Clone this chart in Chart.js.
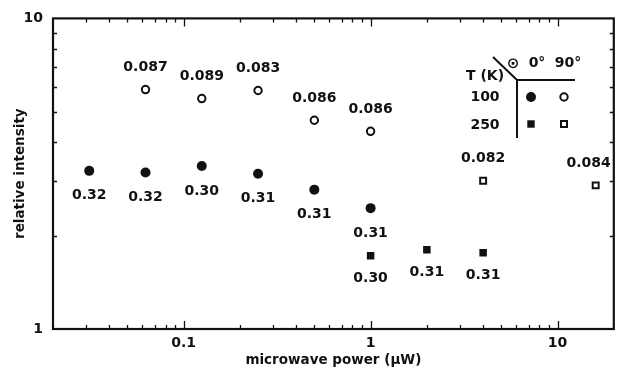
<!DOCTYPE html>
<html><head><meta charset="utf-8">
<script src="https://cdn.jsdelivr.net/npm/chart.js@4/dist/chart.umd.min.js"></script>
<style>html,body{margin:0;padding:0;background:#fff}#wrap{width:620px;height:369px}</style>
</head><body><div id="wrap"><canvas id="c" width="620" height="369"></canvas></div>
<script>
// ---- data ----
const power100_0 = [0.03125, 0.0625, 0.125, 0.25, 0.5, 1];
const intensity100_0 = [3.23, 3.19, 3.35, 3.16, 2.81, 2.45];
const ratio100_0 = ['0.32', '0.32', '0.30', '0.31', '0.31', '0.31'];

const power100_90 = [0.0625, 0.125, 0.25, 0.5, 1];
const intensity100_90 = [5.90, 5.52, 5.86, 4.70, 4.33];
const ratio100_90 = ['0.087', '0.089', '0.083', '0.086', '0.086'];

const power250_0 = [1, 2, 4];
const intensity250_0 = [1.72, 1.80, 1.76];
const ratio250_0 = ['0.30', '0.31', '0.31'];

const power250_90 = [4, 16];
const intensity250_90 = [3.00, 2.90];
const ratio250_90 = ['0.082', '0.084'];

const xMajorTicks = [0.1, 1, 10];
const xTickLabels = ['0.1', '1', '10'];
const yMajorTicks = [1, 10];
const yTickLabels = ['1', '10'];
const xRange = [0.02, 20];
const yRange = [1, 10];

// ---- helpers ----
const FONT = '"DejaVu Sans", sans-serif';
function toPts(xs, ys) { return xs.map((v, i) => ({x: v, y: ys[i]})); }
function isMajor(v, list) { return list.some(m => Math.abs(v - m) / m < 1e-6); }
function logTicks(min, max) {
  const out = [];
  for (let e = Math.floor(Math.log10(min)); e <= Math.ceil(Math.log10(max)); e++) {
    for (let m = 1; m <= 9; m++) {
      const v = +(m * Math.pow(10, e)).toPrecision(6);
      if (v >= min * 0.9999 && v <= max * 1.0001) out.push({value: v});
    }
  }
  return out;
}

const frameTicks = {
  id: 'frameTicks',
  afterDraw(chart) {
    const {ctx, chartArea: a, scales: {x, y}} = chart;
    ctx.save();
    ctx.strokeStyle = '#111';
    ctx.lineWidth = 1.3;
    ctx.beginPath();
    x.ticks.forEach(t => {
      const px = Math.round(x.getPixelForValue(t.value)) + 0.5;
      if (px < a.left + 2 || px > a.right - 2) return;
      const len = isMajor(t.value, xMajorTicks) ? 8 : 4;
      ctx.moveTo(px, a.bottom); ctx.lineTo(px, a.bottom - len);
      ctx.moveTo(px, a.top); ctx.lineTo(px, a.top + len);
    });
    y.ticks.forEach(t => {
      const py = Math.round(y.getPixelForValue(t.value)) + 0.5;
      if (py < a.top + 2 || py > a.bottom - 2) return;
      const len = isMajor(t.value, yMajorTicks) ? 8 : 4;
      ctx.moveTo(a.left, py); ctx.lineTo(a.left + len, py);
      ctx.moveTo(a.right, py); ctx.lineTo(a.right - len, py);
    });
    ctx.stroke();
    ctx.lineWidth = 2.2;
    ctx.strokeRect(a.left, a.top, a.right - a.left, a.bottom - a.top);
    ctx.restore();
  }
};

const pointLabels = {
  id: 'pointLabels',
  afterDatasetsDraw(chart) {
    const {ctx, chartArea: a} = chart;
    ctx.save();
    ctx.font = 'bold 14px ' + FONT;
    ctx.fillStyle = '#111';
    ctx.textAlign = 'center';
    ctx.textBaseline = 'middle';
    chart.data.datasets.forEach((ds, di) => {
      const meta = chart.getDatasetMeta(di);
      meta.data.forEach((el, i) => {
        const txt = ds.valueLabels[i];
        const w = ctx.measureText(txt).width;
        let cx = el.x;
        if (cx + w / 2 > a.right - 3) cx = a.right - 3 - w / 2;
        ctx.fillText(txt, cx, el.y + ds.labelOffset);
      });
    });
    ctx.restore();
  }
};

const cornerKey = {
  id: 'cornerKey',
  afterDraw(chart) {
    const {ctx} = chart;
    ctx.save();
    ctx.fillStyle = '#111';
    ctx.strokeStyle = '#111';
    ctx.font = 'bold 14px ' + FONT;
    ctx.textAlign = 'center';
    ctx.textBaseline = 'middle';
    ctx.fillText('T (K)', 485, 76);
    ctx.fillText('100', 485, 97);
    ctx.fillText('250', 485, 125);
    ctx.fillText('0°', 537, 63);
    ctx.fillText('90°', 568, 63);
    ctx.font = 'bold 15px ' + FONT;
    ctx.fillText('⊙', 513, 64);
    ctx.lineWidth = 2;
    ctx.beginPath();
    ctx.moveTo(493, 57); ctx.lineTo(517, 80); ctx.lineTo(575, 80);
    ctx.moveTo(517, 80); ctx.lineTo(517, 138);
    ctx.stroke();
    // markers
    ctx.beginPath(); ctx.arc(531, 97, 5, 0, Math.PI * 2); ctx.fill();
    ctx.beginPath(); ctx.arc(564, 97, 3.7, 0, Math.PI * 2);
    ctx.fillStyle = '#fff'; ctx.fill(); ctx.lineWidth = 2; ctx.stroke();
    ctx.fillStyle = '#111';
    ctx.fillRect(531 - 3.7, 124 - 3.7, 7.4, 7.4);
    ctx.strokeRect(564 - 3, 124 - 3, 6, 6);
    ctx.restore();
  }
};

new Chart(document.getElementById('c'), {
  type: 'scatter',
  data: {
    datasets: [
      {label: '100 K, 0°', data: toPts(power100_0, intensity100_0), valueLabels: ratio100_0, labelOffset: 25,
       pointStyle: 'circle', pointRadius: 5, backgroundColor: '#111', borderColor: '#111', borderWidth: 0},
      {label: '100 K, 90°', data: toPts(power100_90, intensity100_90), valueLabels: ratio100_90, labelOffset: -22,
       pointStyle: 'circle', pointRadius: 3.7, backgroundColor: '#fff', borderColor: '#111', borderWidth: 2},
      {label: '250 K, 0°', data: toPts(power250_0, intensity250_0), valueLabels: ratio250_0, labelOffset: 23,
       pointStyle: 'rect', pointRadius: 5.3, backgroundColor: '#111', borderColor: '#111', borderWidth: 0},
      {label: '250 K, 90°', data: toPts(power250_90, intensity250_90), valueLabels: ratio250_90, labelOffset: -22,
       pointStyle: 'rect', pointRadius: 4.2, backgroundColor: '#fff', borderColor: '#111', borderWidth: 2}
    ]
  },
  options: {
    responsive: false,
    animation: false,
    devicePixelRatio: 1,
    events: [],
    layout: {padding: {top: 15, right: 3, left: 0, bottom: 0}},
    plugins: {legend: {display: false}, tooltip: {enabled: false}},
    scales: {
      x: {
        type: 'logarithmic', min: xRange[0], max: xRange[1],
        grid: {display: false, drawTicks: false}, border: {display: false},
        afterBuildTicks: s => { s.ticks = logTicks(xRange[0], xRange[1]); },
        afterFit: s => { s.height = 40; },
        ticks: {
          autoSkip: false, maxRotation: 0, padding: 6, color: '#111',
          font: {family: FONT, weight: 'bold', size: 14},
          callback: v => { const i = xMajorTicks.findIndex(m => Math.abs(v - m) / m < 1e-6); return i >= 0 ? xTickLabels[i] : ''; }
        },
        title: {display: true, text: 'microwave power (μW)', color: '#111',
          font: {family: FONT, weight: 'bold', size: 13.5}, padding: {top: 0, bottom: 0}}
      },
      y: {
        type: 'logarithmic', min: yRange[0], max: yRange[1],
        grid: {display: false, drawTicks: false}, border: {display: false},
        afterBuildTicks: s => { s.ticks = logTicks(yRange[0], yRange[1]); },
        afterFit: s => { s.width = 53; },
        ticks: {
          autoSkip: false, padding: 10, color: '#111',
          font: {family: FONT, weight: 'bold', size: 14},
          callback: v => { const i = yMajorTicks.findIndex(m => Math.abs(v - m) / m < 1e-6); return i >= 0 ? yTickLabels[i] : ''; }
        },
        title: {display: true, text: 'relative intensity', color: '#111',
          font: {family: FONT, weight: 'bold', size: 13.5}, padding: {top: 12, bottom: 0}}
      }
    }
  },
  plugins: [frameTicks, pointLabels, cornerKey]
});
</script>
</body></html>
